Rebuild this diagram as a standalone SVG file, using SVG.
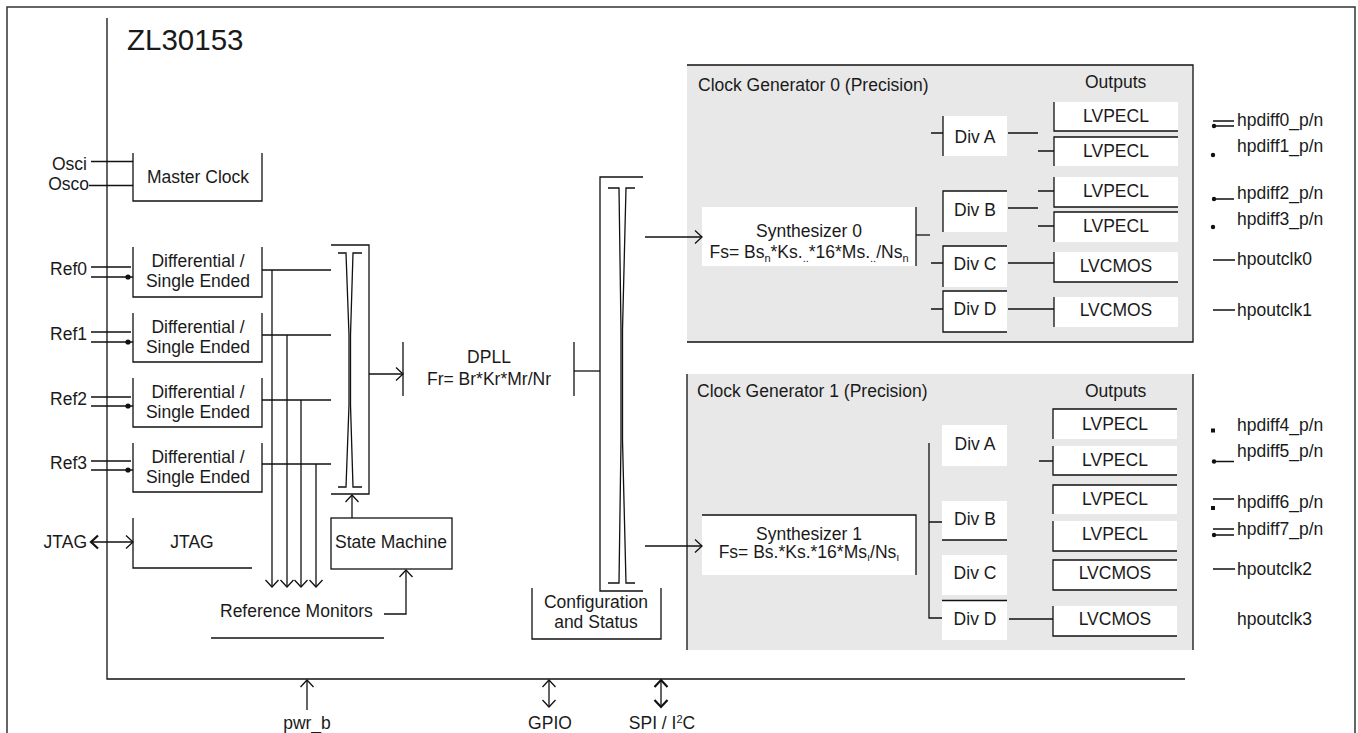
<svg xmlns="http://www.w3.org/2000/svg" width="1358" height="733" viewBox="0 0 1358 733">
<style>
.l{stroke:#111;stroke-width:1.3;fill:none}
.t{font-family:"Liberation Sans",Arial,sans-serif;font-size:17.5px;fill:#1a1a1a}
.c{text-anchor:middle}
.e{text-anchor:end}
.w{fill:#fff}
.g{fill:#e8e8e8}
.d{fill:#111}
.s{font-size:11px}
</style>
<defs>
<marker id="a" viewBox="-9 -9 11 18" refX="0" refY="0" markerWidth="11" markerHeight="18" markerUnits="userSpaceOnUse" orient="auto-start-reverse">
<path d="M-7,-6.5 L0,0 L-7,6.5" fill="none" stroke="#111" stroke-width="1.3"/>
</marker>
<marker id="b" viewBox="-9 -9 11 18" refX="0" refY="0" markerWidth="11" markerHeight="18" markerUnits="userSpaceOnUse" orient="auto-start-reverse">
<path d="M-7,-6.5 L0,0 L-7,6.5" fill="none" stroke="#111" stroke-width="2.2"/>
</marker>
</defs>
<rect width="1358" height="733" fill="#fff"/>
<g id="frame">
<path d="M7,745 V7 H1355 V745" fill="none" stroke="#333" stroke-width="1.5"/>
<path class="l" d="M107,18 V679 H1185"/>
<text class="t" x="127" y="50" style="font-size:29.5px">ZL30153</text>
</g>
<g id="master-clock">
<path class="l" d="M133,153 V201 H262 V153"/>
<text class="t c" x="198" y="183">Master Clock</text>
</g>
<g id="ref0">
<path class="l" d="M133,247 V297 H262 V247"/>
<text class="t c" x="198" y="267">Differential /</text>
<text class="t c" x="198" y="287">Single Ended</text>
</g>
<g id="ref1">
<path class="l" d="M133,313 V362 H262 V313"/>
<text class="t c" x="198" y="333">Differential /</text>
<text class="t c" x="198" y="353">Single Ended</text>
</g>
<g id="ref2">
<path class="l" d="M133,378 V427 H262 V378"/>
<text class="t c" x="198" y="398">Differential /</text>
<text class="t c" x="198" y="418">Single Ended</text>
</g>
<g id="ref3">
<path class="l" d="M133,443 V492 H262 V443"/>
<text class="t c" x="198" y="463">Differential /</text>
<text class="t c" x="198" y="483">Single Ended</text>
</g>
<g id="jtag">
<path class="l" d="M133,518 V568 H252"/>
<text class="t c" x="192" y="548">JTAG</text>
</g>
<g id="ref-mux">
<path class="l" d="M331,245 H369 V494 H331"/>
<path class="l" d="M338,253 H346 L349,335 V405 L346,487 H338"/>
<path class="l" d="M362,253 H353 L350.5,335 V405 L353,487 H362"/>
</g>
<g id="state-machine">
<rect class="l" x="331" y="518" width="121" height="51"/>
<text class="t c" x="391" y="548">State Machine</text>
</g>
<g id="reference-monitors">
<text class="t" x="220" y="617">Reference Monitors</text>
<path class="l" d="M211,638 H384"/>
</g>
<g id="dpll">
<path class="l" d="M403,342 V396 M574,342 V396"/>
<text class="t c" x="489" y="363">DPLL</text>
<text class="t c" x="489" y="385">Fr= Br*Kr*Mr/Nr</text>
</g>
<g id="out-mux">
<path class="l" d="M643,177 H600 V591 H643"/>
<path class="l" d="M608,188 H619 L621,330 V440 L619,583 H608"/>
<path class="l" d="M635,188 H626 L622.5,330 V440 L626,583 H635"/>
</g>
<g id="config">
<path class="l" d="M532,588 V639 H661 V588"/>
<text class="t c" x="596" y="608">Configuration</text>
<text class="t c" x="596" y="628">and Status</text>
</g>
<g id="clock-gen-0">
<rect class="g" x="687" y="65" width="506" height="277"/>
<path class="l" d="M687,65 H1193 V342 H687"/>
<text class="t" x="698" y="91">Clock Generator 0 (Precision)</text>
<text class="t" x="1085" y="88">Outputs</text>
<rect class="w" x="702" y="207" width="214" height="59"/>
<path class="l" d="M916,207 V266"/>
<text class="t c" x="809" y="237">Synthesizer 0</text>
<text class="t c" x="809" y="258">Fs= Bs<tspan class="s" dy="4">n</tspan><tspan dy="-4">*Ks.</tspan><tspan class="s" dy="4">..</tspan><tspan dy="-4">*16*Ms.</tspan><tspan class="s" dy="4">..</tspan><tspan dy="-4">/Ns</tspan><tspan class="s" dy="4">n</tspan></text>
<rect class="w" x="943" y="116" width="64" height="40"/>
<rect class="w" x="943" y="191" width="64" height="41"/>
<rect class="w" x="943" y="246" width="64" height="41"/>
<rect class="w" x="943" y="291" width="64" height="41"/>
<path class="l" d="M943,116 V156 M1007,191 H943 V232 M1007,246 H943 V287 M1007,291 H943 V332 H1007"/>
<text class="t c" x="975" y="143">Div A</text>
<text class="t c" x="975" y="216">Div B</text>
<text class="t c" x="975" y="270">Div C</text>
<text class="t c" x="975" y="315">Div D</text>
<rect class="w" x="1054" y="102" width="124" height="29"/>
<rect class="w" x="1054" y="137" width="124" height="29"/>
<rect class="w" x="1054" y="177" width="124" height="30"/>
<rect class="w" x="1054" y="212" width="124" height="30"/>
<rect class="w" x="1054" y="252" width="124" height="30"/>
<rect class="w" x="1054" y="297" width="124" height="30"/>
<path class="l" d="M1054,102 V131 H1178 M1178,137 H1054 V166 M1054,177 V207 H1178 M1178,212 H1054 V242 M1054,252 V282 H1178 M1054,297 V327"/>
<text class="t c" x="1116" y="122">LVPECL</text>
<text class="t c" x="1116" y="157">LVPECL</text>
<text class="t c" x="1116" y="197">LVPECL</text>
<text class="t c" x="1116" y="232">LVPECL</text>
<text class="t c" x="1116" y="272">LVCMOS</text>
<text class="t c" x="1116" y="316">LVCMOS</text>
</g>
<g id="clock-gen-1">
<rect class="g" x="687" y="374" width="506" height="276"/>
<path class="l" d="M687,374 V650 M1193,374 V650"/>
<text class="t" x="697" y="397">Clock Generator 1 (Precision)</text>
<text class="t" x="1085" y="397">Outputs</text>
<rect class="w" x="702" y="515" width="214" height="60"/>
<path class="l" d="M702,515 H916 V575"/>
<text class="t c" x="809" y="540">Synthesizer 1</text>
<text class="t c" x="809" y="558">Fs= Bs.*Ks.*16*Ms<tspan class="s" dy="3">ı</tspan><tspan dy="-3">/Ns</tspan><tspan class="s" dy="3">ı</tspan></text>
<rect class="w" x="942" y="425" width="65" height="41"/>
<rect class="w" x="942" y="501" width="65" height="39"/>
<rect class="w" x="942" y="555" width="65" height="40"/>
<rect class="w" x="942" y="600" width="65" height="40"/>
<path class="l" d="M942,540 H1007 M942,600.5 H1007"/>
<text class="t c" x="975" y="450">Div A</text>
<text class="t c" x="975" y="525">Div B</text>
<text class="t c" x="975" y="579">Div C</text>
<text class="t c" x="975" y="625">Div D</text>
<rect class="w" x="1053" y="409" width="124" height="30"/>
<rect class="w" x="1053" y="446" width="124" height="29"/>
<rect class="w" x="1053" y="485" width="124" height="29"/>
<rect class="w" x="1053" y="521" width="124" height="30"/>
<rect class="w" x="1053" y="560" width="124" height="30"/>
<rect class="w" x="1053" y="606" width="124" height="30"/>
<path class="l" d="M1177,409 H1053 V439 M1053,446 V475 H1177 M1177,485 H1053 V514 M1053,521 V551 H1177 M1177,560 H1053 V590 H1177 M1053,606 V636 H1177"/>
<text class="t c" x="1115" y="430">LVPECL</text>
<text class="t c" x="1115" y="466">LVPECL</text>
<text class="t c" x="1115" y="505">LVPECL</text>
<text class="t c" x="1115" y="540">LVPECL</text>
<text class="t c" x="1115" y="579">LVCMOS</text>
<text class="t c" x="1115" y="625">LVCMOS</text>
</g>
<g id="pins">
<text class="t e" x="87" y="170">Osci</text>
<text class="t e" x="89" y="190">Osco</text>
<text class="t e" x="87" y="275">Ref0</text>
<text class="t e" x="87" y="340">Ref1</text>
<text class="t e" x="87" y="405">Ref2</text>
<text class="t e" x="87" y="469">Ref3</text>
<text class="t e" x="87" y="548">JTAG</text>
<text class="t c" x="307" y="729">pwr_b</text>
<text class="t c" x="550" y="729">GPIO</text>
<text class="t c" x="662" y="729">SPI / I<tspan class="s" dy="-6">2</tspan><tspan dy="6">C</tspan></text>
<text class="t" x="1237" y="126">hpdiff0_p/n</text>
<text class="t" x="1237" y="152">hpdiff1_p/n</text>
<text class="t" x="1237" y="199">hpdiff2_p/n</text>
<text class="t" x="1237" y="225">hpdiff3_p/n</text>
<text class="t" x="1237" y="265">hpoutclk0</text>
<text class="t" x="1237" y="316">hpoutclk1</text>
<text class="t" x="1237" y="431">hpdiff4_p/n</text>
<text class="t" x="1237" y="457">hpdiff5_p/n</text>
<text class="t" x="1237" y="508">hpdiff6_p/n</text>
<text class="t" x="1237" y="535">hpdiff7_p/n</text>
<text class="t" x="1237" y="575">hpoutclk2</text>
<text class="t" x="1237" y="625">hpoutclk3</text>
<path class="l" d="M1213,121 H1234 M1213,126 H1234 M1213,199 H1234 M1213,260 H1235 M1213,310 H1235 M1213,461.5 H1234 M1213,499 H1234 M1213,529 H1234 M1213,535 H1234 M1213,569 H1235"/>
<circle class="d" cx="1214" cy="126" r="2.2"/>
<circle class="d" cx="1213" cy="155" r="2.2"/>
<circle class="d" cx="1214" cy="199" r="2.2"/>
<circle class="d" cx="1213" cy="227" r="2.2"/>
<rect class="d" x="1211" y="428.5" width="4" height="4"/>
<circle class="d" cx="1214" cy="461.5" r="2.2"/>
<rect class="d" x="1211" y="506" width="4" height="4"/>
<circle class="d" cx="1214" cy="535" r="2.2"/>
</g>
<g id="connectors">
<path class="l" d="M91,161.5 H133 M89,185.5 H133"/>
<path class="l" d="M91,267 H131 M91,277 H133 M91,332 H131 M91,342 H133 M91,397 H131 M91,406 H133 M91,461 H131 M91,470 H133"/>
<circle class="d" cx="128" cy="277" r="2.6"/>
<circle class="d" cx="128" cy="342" r="2.6"/>
<circle class="d" cx="128" cy="406" r="2.6"/>
<circle class="d" cx="128" cy="470" r="2.6"/>
<path class="l" d="M262,270 H331 M262,335 H331 M262,400 H331 M262,464 H331"/>
<path class="l" marker-end="url(#a)" d="M272,270 V587"/>
<path class="l" marker-end="url(#a)" d="M287,335 V587"/>
<path class="l" marker-end="url(#a)" d="M301,400 V587"/>
<path class="l" marker-end="url(#a)" d="M316,464 V587"/>
<path class="l" marker-end="url(#a)" marker-start="url(#b)" d="M91,542 H133"/>
<path class="l" marker-end="url(#a)" d="M369,374 H403"/>
<path class="l" marker-end="url(#a)" d="M352,518 V495"/>
<path class="l" marker-end="url(#a)" d="M384,614 H406 V570"/>
<path class="l" d="M574,371 H600"/>
<path class="l" marker-end="url(#a)" d="M645,237 H702"/>
<path class="l" marker-end="url(#a)" d="M645,546 H702"/>
<path class="l" d="M916,235 H930"/>
<path class="l" d="M931,133 H943 M931,263 H943 M931,309 H943"/>
<path class="l" d="M1008,133 H1038 M1008,208 H1038 M1008,263 H1054 M1008,309 H1054"/>
<path class="l" d="M1038,151 H1054 M1038,191 H1054 M1038,226 H1054"/>
<path class="l" d="M929,443 V618 H942 M929,522 H942"/>
<path class="l" d="M1009,619 H1053 M1039,461 H1053"/>
<path class="l" marker-end="url(#a)" d="M307,710 V680"/>
<path class="l" marker-end="url(#a)" marker-start="url(#a)" d="M549,680 V707"/>
<path class="l" marker-end="url(#b)" marker-start="url(#b)" d="M661,680 V707"/>
</g>
</svg>
